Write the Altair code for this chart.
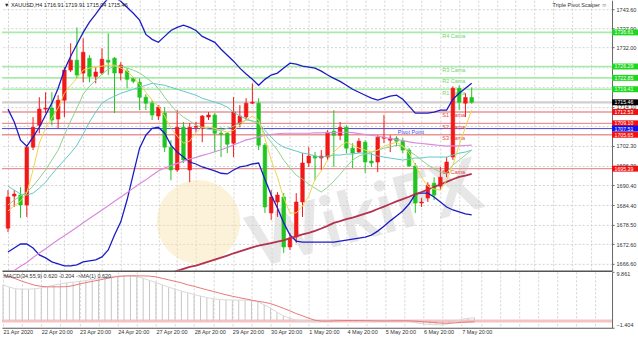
import altair as alt
import pandas as pd

# ---------------- data ----------------
idx = list(range(75))
opens = [1677.4,1687.1,1687.4,1684.4,1701.9,1708.5,1713.4,1713.7,1710.4,1716.1,
         1725.2,1728.2,1724.3,1728.8,1723.3,1724.3,1728.2,1728.8,1724.3,1724.9,
         1722.7,1721.5,1717.0,1715.2,1711.3,1712.2,1701.9,1695.0,1707.9,1695.0,
         1707.9,1707.6,1711.0,1711.6,1706.1,1706.1,1703.1,1708.9,1711.0,1715.2,
         1715.2,1702.5,1682.0,1685.3,1686.8,1671.7,1674.7,1685.3,1697.1,1699.2,
         1698.6,1698.9,1706.7,1705.5,1707.9,1701.6,1700.4,1703.4,1697.7,1697.4,
         1704.6,1704.0,1704.6,1703.7,1701.0,1696.2,1685.0,1686.5,1691.0,1690.1,
         1694.1,1698.9,1719.7,1715.2,1716.91]
highs = [1688.9,1688.9,1689.8,1702.5,1711.0,1717.0,1718.5,1718.5,1717.6,1726.1,
         1733.3,1738.1,1734.8,1729.7,1726.1,1731.8,1736.3,1729.1,1727.6,1725.8,
         1723.0,1722.7,1717.9,1716.1,1714.6,1714.0,1704.0,1713.1,1709.5,1709.2,
         1709.5,1711.6,1712.5,1712.2,1707.9,1706.4,1717.0,1714.6,1716.7,1721.2,
         1716.7,1703.1,1688.9,1688.3,1688.0,1675.9,1688.0,1700.1,1701.9,1700.4,
         1701.0,1707.0,1713.1,1709.5,1708.5,1703.1,1704.6,1704.0,1700.1,1705.5,
         1711.6,1705.5,1705.2,1704.6,1701.6,1697.1,1686.5,1691.3,1692.8,1695.9,
         1698.9,1720.3,1720.6,1718.2,1719.91]
lows = [1676.2,1683.8,1680.5,1680.8,1701.0,1706.1,1712.2,1708.5,1707.6,1711.0,
        1724.6,1722.7,1721.5,1721.5,1721.2,1723.7,1723.7,1712.2,1722.1,1719.7,
        1721.2,1713.1,1713.1,1710.1,1710.1,1700.4,1691.9,1694.4,1697.1,1691.3,
        1706.4,1703.4,1710.1,1700.4,1698.9,1700.1,1698.9,1707.9,1710.1,1714.9,
        1701.0,1682.0,1679.9,1680.8,1669.9,1670.8,1672.9,1680.8,1695.9,1691.9,
        1695.0,1698.0,1695.9,1704.0,1700.1,1695.6,1700.1,1694.1,1695.9,1694.4,
        1703.1,1700.4,1702.2,1700.1,1695.9,1682.0,1683.8,1685.3,1685.9,1688.9,
        1692.8,1698.0,1713.1,1711.0,1715.04]
closes = [1686.8,1687.7,1684.4,1701.9,1707.9,1713.4,1713.7,1710.1,1716.1,1725.2,
          1728.2,1723.7,1730.6,1723.3,1724.6,1728.5,1727.6,1724.3,1726.7,1722.4,
          1721.8,1717.0,1715.2,1711.6,1714.0,1701.9,1695.0,1707.9,1698.0,1707.9,
          1708.2,1711.3,1711.6,1706.1,1705.8,1702.8,1712.5,1711.3,1715.2,1715.5,
          1702.5,1683.8,1686.8,1687.4,1671.7,1674.4,1685.3,1697.1,1699.2,1698.6,
          1699.2,1706.4,1705.5,1707.9,1701.6,1700.1,1703.7,1697.4,1697.1,1704.9,
          1704.9,1704.6,1703.7,1701.0,1696.2,1685.0,1685.3,1690.4,1687.4,1692.8,
          1697.4,1719.7,1715.5,1716.9,1715.46]

bb_upper = [1713.4,1709.5,1704.0,1702.2,1704.9,1707.9,1711.6,1715.2,1719.7,1725.2,
            1729.4,1733.0,1736.6,1739.7,1742.1,1744.8,1746.9,1747.2,1746.0,1744.2,
            1742.4,1740.3,1736.0,1734.5,1733.6,1735.4,1737.2,1738.1,1738.8,1738.1,
            1737.2,1735.4,1734.5,1733.6,1731.5,1729.7,1727.9,1725.8,1724.0,1722.4,
            1720.6,1722.4,1723.7,1724.3,1725.8,1727.3,1727.0,1726.4,1726.1,1725.8,
            1724.9,1723.7,1722.7,1721.8,1720.6,1719.4,1718.5,1717.6,1716.7,1716.1,
            1716.7,1717.3,1717.6,1716.4,1714.3,1712.2,1712.2,1712.2,1712.5,1713.1,
            1713.1,1716.4,1718.2,1719.7,1721.2]
bb_lower = [1670.2,1671.4,1672.6,1672.6,1671.4,1669.3,1668.4,1667.2,1666.6,1666.0,
            1666.0,1666.3,1667.2,1667.5,1667.8,1668.7,1670.8,1675.3,1679.3,1685.9,
            1693.8,1701.6,1705.5,1707.6,1707.9,1706.1,1702.5,1700.4,1698.9,1697.4,
            1696.8,1695.9,1695.3,1694.7,1694.0,1693.8,1695.0,1695.9,1696.2,1696.8,
            1697.1,1692.2,1687.4,1683.5,1679.0,1675.3,1673.5,1673.2,1673.2,1673.2,
            1673.2,1673.2,1673.2,1673.5,1673.8,1674.1,1674.4,1674.7,1675.3,1676.5,
            1678.0,1679.6,1681.1,1682.6,1684.7,1687.7,1688.0,1688.0,1686.8,1685.3,
            1683.8,1682.9,1682.3,1681.7,1681.4]
ma_yellow = [1682.6,1684.1,1685.6,1688.0,1695.0,1703.1,1707.6,1710.7,1713.7,1718.2,
             1720.6,1722.7,1725.2,1725.8,1726.1,1726.4,1726.7,1726.7,1725.8,1724.9,
             1723.0,1720.9,1718.5,1716.1,1714.3,1711.3,1707.6,1705.2,1703.1,1703.7,
             1706.4,1707.9,1707.9,1707.6,1707.0,1706.4,1707.0,1708.5,1710.1,1711.3,
             1710.1,1704.6,1698.0,1692.8,1686.5,1682.0,1682.0,1684.1,1687.1,1692.2,
             1694.7,1698.0,1700.4,1702.2,1703.4,1702.5,1701.6,1701.0,1700.4,1701.0,
             1702.2,1702.8,1703.4,1702.2,1700.1,1696.5,1692.8,1690.1,1689.2,1688.9,
             1691.9,1696.5,1702.5,1707.9,1713.1]
ma_green = [1684.4,1685.9,1687.1,1688.3,1690.1,1692.5,1695.0,1698.0,1701.0,1705.5,
            1709.8,1713.7,1717.9,1720.3,1722.1,1724.0,1725.5,1726.4,1726.4,1725.8,
            1725.2,1724.3,1723.0,1721.5,1719.7,1717.0,1714.6,1712.5,1711.0,1709.8,
            1708.5,1707.9,1707.3,1707.0,1707.0,1707.6,1708.2,1709.2,1710.1,1709.8,
            1709.2,1705.8,1703.4,1701.0,1698.0,1695.6,1693.4,1692.2,1690.7,1689.5,
            1688.3,1689.8,1691.6,1693.7,1695.9,1698.0,1699.2,1699.8,1700.4,1701.0,
            1701.6,1701.9,1702.5,1702.2,1700.7,1699.5,1698.0,1696.5,1695.3,1694.4,
            1694.1,1696.5,1698.0,1699.5,1701.0]
ma_teal = [1690.1,1688.9,1687.7,1687.4,1688.0,1689.5,1691.3,1693.7,1695.9,1698.0,
           1700.1,1702.5,1705.8,1709.5,1712.5,1715.2,1716.4,1717.3,1718.2,1718.8,
           1719.4,1720.0,1720.6,1721.2,1720.9,1720.6,1720.0,1719.4,1718.8,1718.2,
           1717.6,1716.7,1716.1,1715.5,1714.9,1714.0,1712.5,1711.3,1710.4,1709.8,
           1709.2,1707.0,1704.9,1703.1,1701.9,1701.3,1700.7,1700.1,1699.8,1699.2,
           1698.9,1699.2,1699.5,1699.5,1699.8,1699.8,1700.1,1700.1,1699.8,1699.2,
           1698.9,1698.6,1698.3,1698.0,1698.3,1698.6,1698.6,1698.9,1698.9,1698.9,
           1698.9,1699.5,1700.1,1700.4,1701.0]
ma_pink = [1663.3,1664.6,1665.9,1667.0,1668.5,1669.9,1671.2,1672.5,1673.9,1675.1,
           1676.4,1677.7,1679.0,1680.3,1681.6,1682.9,1684.2,1685.5,1686.8,1688.1,
           1689.5,1690.8,1692.0,1693.4,1694.7,1695.6,1696.3,1697.0,1697.6,1698.3,
           1698.8,1699.4,1699.9,1700.5,1701.1,1701.8,1702.6,1703.3,1704.1,1704.5,
           1705.0,1705.5,1705.7,1705.9,1706.1,1706.1,1706.1,1706.1,1706.1,1706.2,
           1706.2,1706.3,1706.3,1706.4,1706.4,1706.3,1706.0,1705.7,1705.5,1705.2,
           1704.9,1704.5,1704.2,1703.9,1703.5,1703.2,1703.0,1702.8,1702.6,1702.4,
           1702.2,1702.3,1702.3,1702.4,1702.5]
ma_maroon = [None] * 26 + [
           1663.9,1664.5,1665.1,1665.7,1666.1,1666.7,1667.3,1667.9,1668.5,1669.1,
           1669.8,1670.4,1671.0,1671.6,1672.1,1672.5,1672.9,1673.3,1673.7,1674.4,
           1674.9,1675.5,1676.0,1676.6,1677.3,1678.1,1679.0,1679.5,1680.1,1680.6,
           1681.2,1681.8,1682.4,1683.2,1683.9,1684.7,1685.5,1686.2,1686.9,1687.7,
           1688.3,1689.1,1689.9,1690.6,1691.4,1692.2,1692.9,1693.3,1693.8]

macd_main = [7.24,6.78,6.44,6.38,6.38,6.44,6.64,6.90,7.19,7.45,
             7.65,7.79,7.91,8.11,8.31,8.51,8.71,8.92,9.00,9.06,
             9.06,8.92,8.59,8.11,7.71,7.24,6.78,6.38,5.98,5.64,
             5.29,4.97,4.69,4.43,4.29,4.23,4.17,4.17,4.17,4.09,
             3.83,3.22,2.56,1.75,1.01,0.49,0.14,-0.05,-0.15,-0.20,
             -0.10,0.05,0.15,0.10,0.05,-0.05,0.00,-0.10,-0.20,-0.10,
             0.05,0.10,0.05,-0.05,-0.20,-0.45,-0.65,-0.75,-0.80,-0.80,
             -0.60,-0.10,0.30,0.50,0.62]
macd_signal = [9.20,8.85,8.45,7.95,7.55,7.15,6.94,6.84,6.84,6.84,
               6.88,7.08,7.41,7.69,7.93,8.19,8.45,8.69,8.92,9.02,
               9.06,9.06,9.04,9.00,8.85,8.55,8.25,7.95,7.65,7.24,
               6.94,6.58,6.24,5.92,5.56,5.24,4.94,4.68,4.43,4.17,
               3.93,3.73,3.46,3.02,2.52,2.01,1.47,1.01,0.51,0.10,
               -0.06,-0.05,0.00,0.03,0.05,0.05,0.04,0.02,0.00,-0.03,
               -0.03,-0.01,0.00,0.00,-0.03,-0.10,-0.20,-0.30,-0.40,-0.48,
               -0.50,-0.42,-0.33,-0.26,-0.204]

x_labels = ['21 Apr 2020', '22 Apr 20:00', '23 Apr 20:00', '24 Apr 20:00',
            '27 Apr 20:00', '28 Apr 20:00', '29 Apr 20:00', '30 Apr 20:00',
            '1 May 20:00', '4 May 20:00', '5 May 20:00', '6 May 20:00', '7 May 20:00']
price_ticks = [1743.60, 1737.90, 1732.00, 1726.10, 1720.20, 1714.10, 1708.20,
               1702.30, 1696.30, 1690.40, 1684.40, 1678.50, 1672.60, 1666.60]
hidden_ticks = [1726.10, 1720.20, 1708.20]   # covered by the level boxes
macd_ticks = [9.861, -1.404]

level_names = ['R4 Cama', 'R3 Cama', 'R2 Cama', 'R1 Cama', '', 'S1 Cama', 'S2 Cama',
               'Pivot Point', 'S3 Cama', 'S4 Cama']
level_values = [1736.61, 1726.29, 1722.85, 1719.41, 1715.46, 1712.53, 1709.10,
                1707.51, 1705.65, 1695.39]
level_line_colors = ['#a9eba9', '#a9eba9', '#a9eba9', '#a9eba9', '#cfcfcf', '#e99494',
                     '#e99494', '#4646dc', '#e99494', '#e99494']
level_text_colors = ['#6fd66f', '#6fd66f', '#6fd66f', '#6fd66f', '#999999', '#e04646',
                     '#e04646', '#4646e0', '#e04646', '#e04646']
level_widths = [1.6, 1.6, 1.6, 1.6, 2.2, 1.3, 1.3, 1.0, 1.3, 1.3]
level_label_x = [69.3, 69.3, 69.3, 69.3, 69.3, 69.3, 69.3, 62.2, 69.3, 69.3]
box_colors = ['#1ed81e', '#1ed81e', '#1ed81e', '#1ed81e', '#000000', '#f01010',
              '#f01010', '#1010f0', '#f01010', '#f01010']

header_text = '\u25bc XAUUSD,H4  1716.91 1719.91 1715.04 1715.46'
macd_text = 'MACD(34,55,9) 0.620 -0.204 ->MA(1) 0.620'

# ---------------- frames ----------------
candles = pd.DataFrame({'i': idx, 'open': opens, 'high': highs, 'low': lows, 'close': closes})
candles['col'] = ['#f21818' if c >= o else '#22c422' for o, c in zip(opens, closes)]

series = [('bb_up', bb_upper, '#1c1cc4', 1.3), ('bb_low', bb_lower, '#1c1cc4', 1.3),
          ('pink', ma_pink, '#d98ade', 1.2), ('maroon', ma_maroon, '#b4314c', 1.8),
          ('teal', ma_teal, '#5fc9c9', 1.0), ('green', ma_green, '#8fd18f', 1.0),
          ('yellow', ma_yellow, '#ecd452', 1.0)]
rows = []
for name, vals, col, w in series:
    for i, v in zip(idx, vals):
        if v is not None:
            rows.append({'i': i, 'v': v, 'series': name, 'col': col, 'w': w})
lines = pd.DataFrame(rows)

levels = pd.DataFrame({'name': level_names, 'value': level_values,
                       'lcol': level_line_colors, 'tcol': level_text_colors,
                       'w': level_widths, 'lx': level_label_x, 'bcol': box_colors})
levels['hi'] = levels['value'] + 0.9
levels['lo'] = levels['value'] - 0.9

macd = pd.DataFrame({'i': idx, 'm': macd_main, 's': macd_signal})
marks_wm = pd.DataFrame({'i': [57.0], 'p': [1681.0], 't': ['WikiFX']})
logo_wm = pd.DataFrame({'i': [30.4], 'p': [1679.3]})

# ---------------- scales / axes ----------------
grid_color = '#d2d2d2'
xscale = alt.Scale(domain=[-0.16, 95.6], nice=False, zero=False)
yscale = alt.Scale(domain=[1664.49, 1746.32], nice=False, zero=False)
yscale_b = alt.Scale(domain=[-1.404, 9.861], nice=False, zero=False)
grid_vals = list(range(0, 96, 3))

x_axis_top = alt.Axis(values=grid_vals, labels=False, ticks=False, grid=True,
                      gridColor=grid_color, gridDash=[2, 2], domain=True,
                      domainColor='#555555', domainWidth=1.5, title=None)
hidden_js = '[' + ','.join(f'{v:.2f}' for v in hidden_ticks) + ']'
y_axis_top = alt.Axis(orient='right', values=price_ticks, grid=True,
                      labelExpr=f"indexof({hidden_js}, round(datum.value*100)/100) >= 0 ? '' : format(datum.value, '.2f')",
                      gridColor=grid_color, gridDash=[2, 2], domainColor='#666666',
                      tickSize=2, tickColor='#666666', labelFontSize=5.5,
                      labelColor='#333333', labelPadding=2, title=None, labelFlush=False)
labels_js = '[' + ','.join("'" + s + "'" for s in x_labels) + ']'
x_axis_bot = alt.Axis(values=grid_vals,
                      labelExpr=f"datum.value % 6 == 0 && datum.value / 6 < {len(x_labels)} ? {labels_js}[datum.value / 6] : ''",
                      labelAlign='left', labelFontSize=5.5, labelColor='#333333',
                      labelPadding=2, labelOverlap=False, labelFlush=False, ticks=False,
                      grid=True, gridColor=grid_color, gridDash=[2, 2],
                      domainColor='#555555', domainWidth=1, title=None)
y_axis_bot = alt.Axis(orient='right', values=macd_ticks, format='.3f', labelFlush=True,
                      grid=False, domainColor='#666666', tickSize=2, tickColor='#666666',
                      labelFontSize=5.5, labelColor='#333333', labelPadding=2, title=None)

X = alt.X('i:Q', scale=xscale, axis=x_axis_top)
Xb = alt.X('i:Q', scale=xscale, axis=x_axis_bot)

def Y(field):
    return alt.Y(field, type='quantitative', scale=yscale, axis=y_axis_top)

def Yb(field):
    return alt.Y(field, type='quantitative', scale=yscale_b, axis=y_axis_bot)

# ---------------- top panel ----------------
logo = alt.Chart(logo_wm).mark_point(shape='circle', filled=True, size=7000, clip=True,
                                      color='#f8e2ae', opacity=0.45).encode(x=X, y=Y('p'))
wm = alt.Chart(marks_wm).mark_text(font='Lato', fontSize=72, fontWeight='bold', clip=True,
                                   color='#cfcfcf', opacity=0.5, angle=345).encode(
    x=X, y=Y('p'), text='t:N')
lvl_rules = alt.Chart(levels).mark_rule().encode(
    y=Y('value'), color=alt.Color('lcol:N', scale=None),
    strokeWidth=alt.StrokeWidth('w:Q', scale=None))
lvl_text = alt.Chart(levels).mark_text(align='left', baseline='top', dy=1.5,
                                       fontSize=5.5).encode(
    x=alt.X('lx:Q', scale=xscale, axis=x_axis_top), y=Y('value'), text='name:N',
    color=alt.Color('tcol:N', scale=None))
wicks = alt.Chart(candles).mark_rule(clip=True, strokeWidth=1).encode(
    x=X, y=Y('low'), y2='high', color=alt.Color('col:N', scale=None))
bodies = alt.Chart(candles).mark_bar(clip=True, size=3.6, strokeWidth=0.6).encode(
    x=X, y=Y('open'), y2='close', color=alt.Color('col:N', scale=None),
    stroke=alt.Stroke('col:N', scale=None))
ind = alt.Chart(lines).mark_line(clip=True).encode(
    x=X, y=Y('v'), detail='series:N', order='i:Q',
    color=alt.Color('col:N', scale=None), strokeWidth=alt.StrokeWidth('w:Q', scale=None))
boxes = alt.Chart(levels).mark_rect().encode(
    x=alt.value(611), x2=alt.value(637), y=Y('lo'), y2='hi',
    color=alt.Color('bcol:N', scale=None))
box_text = alt.Chart(levels).mark_text(align='left', baseline='middle', fontSize=5.2,
                                       color='white').encode(
    x=alt.value(613.5), y=Y('value'), text=alt.Text('value:Q', format='.2f'))
hdr = alt.Chart(pd.DataFrame({'t': [header_text]})).mark_text(
    align='left', baseline='middle', fontSize=5.5, color='#222222').encode(
    x=alt.value(2), y=alt.value(5), text='t:N')
hdr2 = alt.Chart(pd.DataFrame({'t': ['Triple Pivot Scalper \u263a']})).mark_text(
    align='right', baseline='middle', fontSize=5.5, color='#333333').encode(
    x=alt.value(606), y=alt.value(5), text='t:N')

top = alt.layer(logo, wm, lvl_rules, lvl_text, wicks, bodies, ind, boxes, box_text,
                hdr, hdr2).properties(width=611, height=271)

# ---------------- MACD panel ----------------
zero_line = alt.Chart(pd.DataFrame({'v': [-0.05]})).mark_rule(
    color='#f6c2c2', strokeWidth=3).encode(y=Yb('v'))
hist = alt.Chart(macd).transform_calculate(zero='0').mark_rule(
    clip=True, color='#c6c6c6', strokeWidth=1).encode(x=Xb, y=Yb('m'), y2='zero:Q')
main_line = alt.Chart(macd).mark_line(clip=True, color='#d9d9d9', strokeWidth=1).encode(
    x=Xb, y=Yb('m'))
sig_line = alt.Chart(macd).mark_line(clip=True, color='#e77878', strokeWidth=1).encode(
    x=Xb, y=Yb('s'))
macd_lbl = alt.Chart(pd.DataFrame({'t': [macd_text]})).mark_text(
    align='left', baseline='top', fontSize=5.5, color='#333333').encode(
    x=alt.value(2), y=alt.value(2), text='t:N')

bottom = alt.layer(zero_line, hist, main_line, sig_line, macd_lbl).properties(
    width=611, height=56)

chart = alt.vconcat(top, bottom, spacing=0).properties(
    padding=0, background='white'
).configure(font='Liberation Sans').configure_view(stroke=None)

chart.save('out.html', embed_options={'renderer': 'svg', 'actions': False})
